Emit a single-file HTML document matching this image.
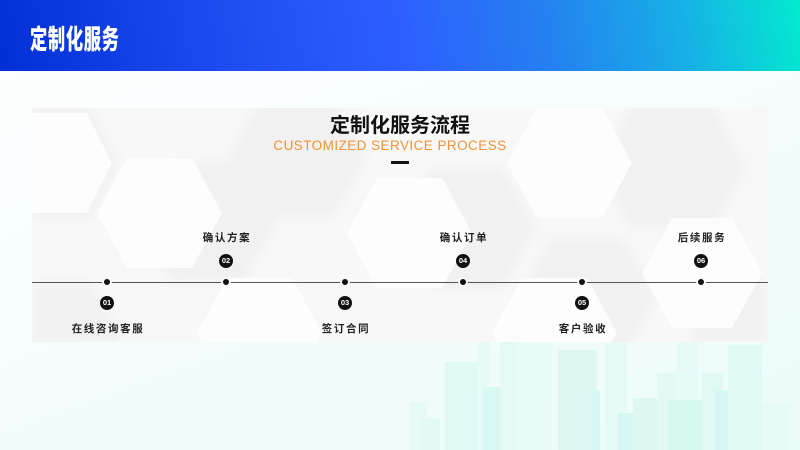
<!DOCTYPE html>
<html><head><meta charset="utf-8"><style>
*{margin:0;padding:0;box-sizing:border-box}
body{width:800px;height:450px;overflow:hidden;position:relative;font-family:"Liberation Sans","Noto Sans CJK SC",sans-serif;background:linear-gradient(160deg,#ffffff 0%,#f6fdfd 45%,#ebfbf9 100%)}
.hdr{position:absolute;left:0;top:0;width:800px;height:71px;background:linear-gradient(80deg,#0330d6 0%,#1e4cf0 28%,#2d5eff 50%,#2580f0 68%,#17b0e6 85%,#03eacf 100%)}
.hdr span{position:absolute;left:30px;top:22px;font-size:27px;font-weight:900;color:#fff;font-family:"Noto Sans CJK SC",sans-serif;transform:scaleX(0.64);transform-origin:left top;line-height:32px;letter-spacing:1px}
.panel{position:absolute;left:32px;top:108px;width:736px;height:234px;background:#f8f8f8;overflow:hidden}
.t{position:absolute;white-space:nowrap;transform:translateX(-50%)}
.title{left:400px;top:111px;font-size:20px;font-weight:bold;color:#111;font-family:"Noto Sans CJK SC",sans-serif;line-height:26px}
.sub{left:390px;top:138px;font-size:13.5px;color:#f29236;letter-spacing:0.45px;line-height:16px}
.dash{position:absolute;left:391px;top:161px;width:18px;height:3px;background:#111}
.lbl{font-size:10.5px;font-weight:bold;color:#222;letter-spacing:1.6px;line-height:12px;font-family:"Noto Sans CJK SC",sans-serif}
.b{position:absolute;width:14px;height:14px;border-radius:50%;background:#111;color:#fff;font-size:7.5px;font-weight:bold;text-align:center;line-height:14px;margin-left:-7px;margin-top:-7px}
.d{position:absolute;width:10px;height:10px;border-radius:50%;background:#111;border:2px solid #f8f8f8;margin-left:-5px;margin-top:-5px}
.line{position:absolute;left:32px;top:281.5px;width:736px;height:1.2px;background:#555}
.bl{position:absolute;background:#e0f8f4}
</style></head><body>
<div class="hdr"><span>定制化服务</span></div>

<!-- skyline -->
<div class="bl" style="left:410px;top:402px;width:17px;height:48px;background:#e8faf7"></div>
<div class="bl" style="left:420px;top:418px;width:20px;height:32px;background:#e2f9f5"></div>
<div class="bl" style="left:445px;top:362px;width:33px;height:88px;background:#e1f9f5"></div>
<div class="bl" style="left:478px;top:342px;width:12px;height:108px;background:#e6faf7"></div>
<div class="bl" style="left:483px;top:387px;width:25px;height:63px;background:#daf8f3"></div>
<div class="bl" style="left:500px;top:342px;width:18px;height:108px;background:#e4faf6"></div>
<div class="bl" style="left:518px;top:342px;width:34px;height:108px;background:#e9fbf8"></div>
<div class="bl" style="left:558px;top:350px;width:39px;height:100px;background:#ddf8f3"></div>
<div class="bl" style="left:592px;top:390px;width:8px;height:60px;background:#d8f7f2"></div>
<div class="bl" style="left:605px;top:342px;width:22px;height:108px;background:#e6faf7"></div>
<div class="bl" style="left:618px;top:413px;width:15px;height:37px;background:#d9f7f2"></div>
<div class="bl" style="left:633px;top:398px;width:24px;height:52px;background:#ddf8f3"></div>
<div class="bl" style="left:657px;top:373px;width:20px;height:77px;background:#e2f9f5"></div>
<div class="bl" style="left:677px;top:342px;width:21px;height:108px;background:#e6faf7"></div>
<div class="bl" style="left:668px;top:400px;width:47px;height:50px;background:#d7f7f1"></div>
<div class="bl" style="left:702px;top:373px;width:21px;height:77px;background:#dff9f4"></div>
<div class="bl" style="left:715px;top:390px;width:45px;height:60px;background:#d9f7f2"></div>
<div class="bl" style="left:728px;top:345px;width:34px;height:105px;background:#e1f9f5"></div>
<div class="bl" style="left:762px;top:403px;width:28px;height:47px;background:#e6faf7"></div>

<div class="panel">
<svg width="736" height="234" viewBox="0 0 736 234">
<defs><filter id="s" x="-20%" y="-20%" width="140%" height="140%"><feGaussianBlur stdDeviation="5"/></filter></defs>
<g fill="#f1f1f1" filter="url(#s)">
<polygon points="0,0 58,0 86,55 58,110 0,110"/>
<polygon points="140,55 210,55 245,115 210,175 140,175 105,115"/>
<polygon points="230,-10 300,-10 335,50 300,110 230,110 195,50"/>
<polygon points="400,60 470,60 505,120 470,180 400,180 365,120"/>
<polygon points="600,0 680,0 715,60 680,120 600,120 565,60"/>
<polygon points="520,130 590,130 625,190 590,250 520,250 485,190"/>
<polygon points="0,175 60,175 90,234 0,234"/>
<polygon points="660,175 736,175 736,234 660,234"/>
</g>
<g fill="#fdfdfd">
<polygon points="0,5 55,5 80,55 55,105 0,105"/>
<polygon points="95,50 160,50 190,105 160,160 95,160 65,105"/>
<polygon points="345,70 410,70 440,125 410,180 345,180 315,125"/>
<polygon points="195,170 260,170 290,225 260,280 195,280 165,225"/>
<polygon points="490,170 555,170 585,225 555,280 490,280 460,225"/>
<polygon points="640,110 700,110 730,165 700,220 640,220 610,165"/>
<polygon points="505,0 570,0 600,55 570,110 505,110 475,55"/>
</g>
</svg>
</div>

<div class="t title">定制化服务流程</div>
<div class="t sub">CUSTOMIZED SERVICE PROCESS</div>
<div class="dash"></div>

<div class="line"></div>
<div class="d" style="left:107px;top:282px"></div>
<div class="d" style="left:226px;top:282px"></div>
<div class="d" style="left:345px;top:282px"></div>
<div class="d" style="left:463px;top:282px"></div>
<div class="d" style="left:582px;top:282px"></div>
<div class="d" style="left:701px;top:282px"></div>

<div class="b" style="left:107px;top:303px">01</div>
<div class="b" style="left:226px;top:261px">02</div>
<div class="b" style="left:345px;top:303px">03</div>
<div class="b" style="left:463px;top:261px">04</div>
<div class="b" style="left:582px;top:303px">05</div>
<div class="b" style="left:701px;top:261px">06</div>

<div class="t lbl" style="left:108px;top:323px">在线咨询客服</div>
<div class="t lbl" style="left:227px;top:232px">确认方案</div>
<div class="t lbl" style="left:346px;top:323px">签订合同</div>
<div class="t lbl" style="left:464px;top:232px">确认订单</div>
<div class="t lbl" style="left:583px;top:323px">客户验收</div>
<div class="t lbl" style="left:702px;top:232px">后续服务</div>
</body></html>
